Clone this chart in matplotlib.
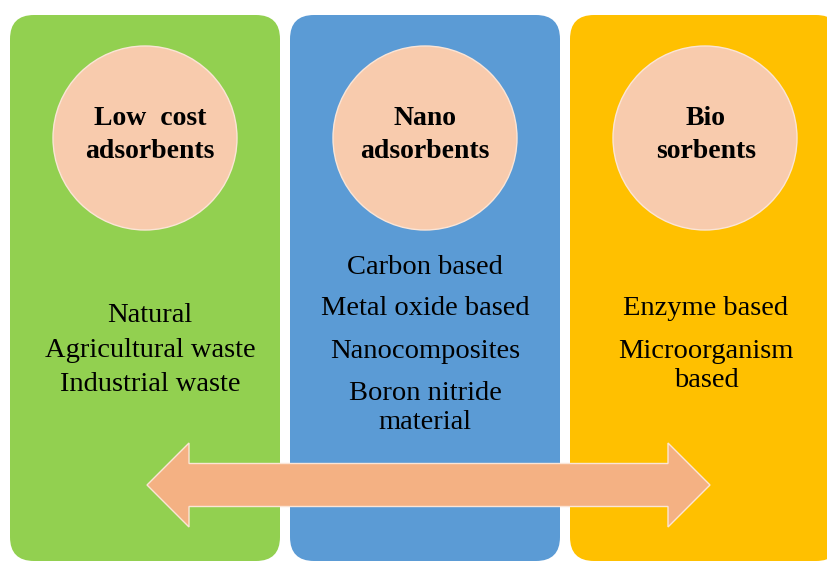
import matplotlib.pyplot as plt
from matplotlib.patches import FancyBboxPatch, Circle, Polygon

# Diagram content
titles = ['Low  cost\nadsorbents', 'Nano\nadsorbents', 'Bio\nsorbents']
items = [
    ['Natural', 'Agricultural waste', 'Industrial waste'],
    ['Carbon based', 'Metal oxide based', 'Nanocomposites', 'Boron nitride\nmaterial'],
    ['Enzyme based', 'Microorganism\nbased'],
]
panel_colors = ['#92D050', '#5B9BD5', '#FFC000']
circle_color = '#F8CBAD'
arrow_color = '#F4B183'

# layout (pixels, y down)
panel_x = [10, 290, 570]
panel_w = 270
panel_top, panel_bottom = 15, 561
centers = [145, 425, 705]
text_x = [150, 425, 706]
item_y = [[315, 350, 384], [267, 308, 351, 408], [308, 366]]

fig = plt.figure(figsize=(8.28, 5.61), dpi=100)
ax = fig.add_axes([0, 0, 1, 1])
ax.set_xlim(0, 828)
ax.set_ylim(561, 0)
ax.axis('off')

for i in range(3):
    r = 24
    box = FancyBboxPatch((panel_x[i] + r, panel_top + r), panel_w - 2 * r,
                         panel_bottom - panel_top - 2 * r,
                         boxstyle=f'round,pad={r}', fc=panel_colors[i], ec='none')
    ax.add_patch(box)
    ax.add_patch(Circle((centers[i], 138), 92, fc=circle_color, ec='#FBE5D6', lw=1))
    ax.text(text_x[i], 135, titles[i], ha='center', va='center', family='Liberation Serif',
            fontweight='bold', fontsize=20, linespacing=1.45)
    for txt, y in zip(items[i], item_y[i]):
        ax.text(text_x[i], y, txt, ha='center', va='center', family='Liberation Serif',
                fontsize=20.5, linespacing=1.2)

# double-headed arrow
xl, xr, yc = 147, 710, 485
head_len, half_head, half_shaft = 42, 42, 21.5
pts = [(xl, yc), (xl + head_len, yc - half_head), (xl + head_len, yc - half_shaft),
       (xr - head_len, yc - half_shaft), (xr - head_len, yc - half_head), (xr, yc),
       (xr - head_len, yc + half_head), (xr - head_len, yc + half_shaft),
       (xl + head_len, yc + half_shaft), (xl + head_len, yc + half_head)]
ax.add_patch(Polygon(pts, closed=True, fc=arrow_color, ec='#FBE5D6', lw=1))

fig.savefig('out.png', dpi=100)
